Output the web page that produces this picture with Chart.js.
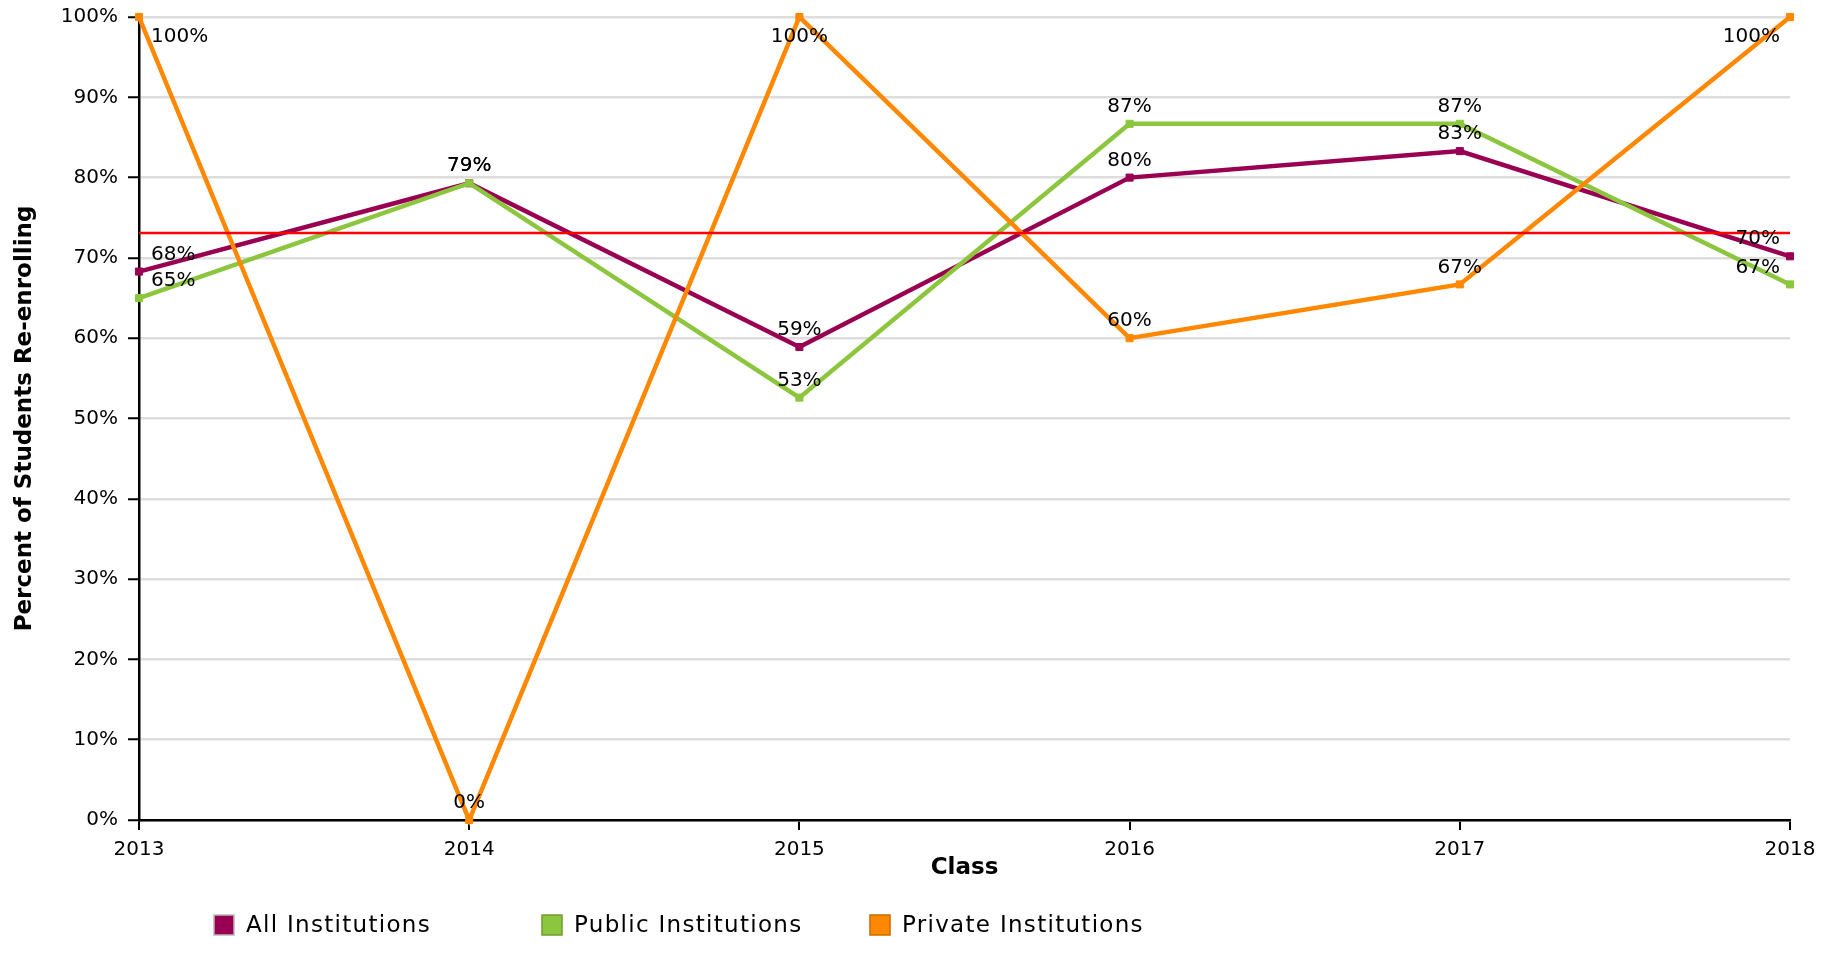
<!DOCTYPE html>
<html>
<head>
<meta charset="utf-8">
<script src="https://cdn.jsdelivr.net/npm/chart.js@4.4.1/dist/chart.umd.min.js"></script>
<style>
  html, body { margin: 0; padding: 0; background: #fff; }
  #wrap { width: 1837px; height: 972px; position: relative; }
</style>
</head>
<body>
<div id="wrap"><canvas id="c"></canvas></div>
<script>
// ---- data ----
const classes = ['2013', '2014', '2015', '2016', '2017', '2018'];
const allInstitutions = [68.3, 79.3, 58.9, 80.0, 83.3, 70.2];
const publicInstitutions = [65.0, 79.3, 52.6, 86.7, 86.7, 66.7];
const privateInstitutions = [100, 0, 100, 60.0, 66.7, 100];
const benchmark = [73.1, 73.1, 73.1, 73.1, 73.1, 73.1];
const seriesNames = ['All Institutions', 'Public Institutions', 'Private Institutions'];
const yTickValues = [0, 10, 20, 30, 40, 50, 60, 70, 80, 90, 100];

// ---- style ----
const COLORS = ['#990051', '#8cc63e', '#ff8800'];
const LEGEND_BORDERS = ['#b9b9b9', '#6f9d33', '#c86b00'];
const FONT = 'DejaVu Sans';
Chart.defaults.font.family = FONT;
Chart.defaults.color = '#000';

const valueLabels = {
  id: 'valueLabels',
  afterDatasetsDraw(chart) {
    const ctx = chart.ctx;
    const area = chart.chartArea;
    ctx.save();
    ctx.font = '20px "' + FONT + '"';
    ctx.fillStyle = '#000';
    ctx.textBaseline = 'middle';
    chart.data.datasets.forEach((ds, di) => {
      if (!ds.showValues) return;
      const meta = chart.getDatasetMeta(di);
      meta.data.forEach((pt, i) => {
        const v = ds.data[i];
        const txt = Math.round(v) + '%';
        let x = pt.x, align = 'center';
        if (i === 0) { x = pt.x + 12; align = 'left'; }
        else if (i === meta.data.length - 1) { x = pt.x - 10; align = 'right'; }
        let y = pt.y - 17;
        if (y - 10 < area.top) y = pt.y + 20;
        ctx.textAlign = align;
        ctx.fillText(txt, x, y);
      });
    });
    ctx.restore();
  }
};

const fixedLegend = {
  id: 'fixedLegend',
  afterDraw(chart) {
    const ctx = chart.ctx;
    const area = chart.chartArea;
    const y = chart.height - 47;
    ctx.save();
    ctx.font = '23px "' + FONT + '"';
    if ('letterSpacing' in ctx) ctx.letterSpacing = '1.3px';
    ctx.textBaseline = 'middle';
    ctx.textAlign = 'left';
    seriesNames.forEach((name, i) => {
      const x = area.left + 75 + i * 328;
      ctx.fillStyle = COLORS[i];
      ctx.fillRect(x, y - 10, 20, 20);
      ctx.lineWidth = 1.5;
      ctx.strokeStyle = LEGEND_BORDERS[i];
      ctx.strokeRect(x, y - 10, 20, 20);
      ctx.fillStyle = '#000';
      ctx.fillText(name, x + 32, y + 1);
    });
    ctx.restore();
  }
};

function lineDataset(label, data, idx) {
  return {
    label: label,
    data: data,
    borderColor: COLORS[idx],
    backgroundColor: COLORS[idx],
    borderWidth: 4.5,
    pointStyle: 'rect',
    pointRadius: 5,
    pointBorderWidth: 1,
    pointHoverRadius: 5,
    tension: 0,
    fill: false,
    clip: false,
    showValues: true,
    order: 3 - idx
  };
}

new Chart(document.getElementById('c'), {
  type: 'line',
  data: {
    labels: classes,
    datasets: [
      lineDataset(seriesNames[0], allInstitutions, 0),
      lineDataset(seriesNames[1], publicInstitutions, 1),
      lineDataset(seriesNames[2], privateInstitutions, 2),
      {
        label: 'Benchmark',
        data: benchmark,
        borderColor: '#ff0000',
        borderWidth: 2.5,
        pointRadius: 0,
        fill: false,
        order: 0
      }
    ]
  },
  options: {
    responsive: true,
    maintainAspectRatio: false,
    animation: false,
    events: [],
    layout: { padding: { left: 0, right: 47, top: 17, bottom: 90 } },
    plugins: {
      legend: { display: false },
      tooltip: { enabled: false },
      title: { display: false }
    },
    scales: {
      x: {
        type: 'category',
        offset: false,
        border: { display: true, color: '#000', width: 2.5 },
        grid: { drawOnChartArea: false, drawTicks: true, tickLength: 10, tickColor: '#000', tickWidth: 2, lineWidth: 2 },
        ticks: { font: { size: 20 }, color: '#000', padding: 8, maxRotation: 0, autoSkip: false },
        title: { display: true, text: 'Class', font: { size: 23, weight: 'bold' }, color: '#000', padding: { top: 0, bottom: 0 } },
        afterFit(scale) { scale.height = 62; }
      },
      y: {
        min: 0,
        max: 100,
        afterBuildTicks(scale) { scale.ticks = yTickValues.map(v => ({ value: v })); },
        border: { display: true, color: '#000', width: 2.5 },
        grid: { color: '#dddddd', lineWidth: 2.5, drawTicks: true, tickLength: 11, tickColor: '#000', tickWidth: 2 },
        ticks: { font: { size: 20 }, color: '#000', padding: 10, callback: v => v + '%' },
        title: { display: true, text: 'Percent of Students Re-enrolling', font: { size: 23, weight: 'bold' }, color: '#000', padding: { top: 11, bottom: 0 } },
        afterFit(scale) { scale.width = 139; scale.paddingTop = 0; scale.paddingBottom = 0; }
      }
    }
  },
  plugins: [valueLabels, fixedLegend]
});
</script>
</body>
</html>
